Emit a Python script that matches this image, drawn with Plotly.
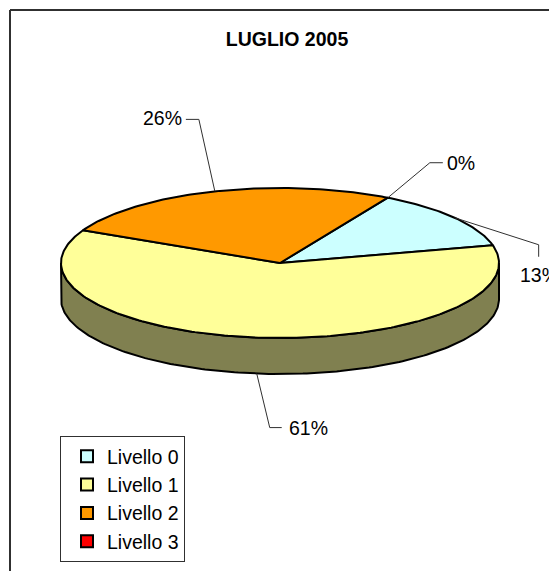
import numpy as np
import plotly.graph_objects as go

title = "LUGLIO 2005"
categories = ["Livello 0", "Livello 1", "Livello 2", "Livello 3"]
values = [13, 61, 26, 0]
colors = ["#CCFFFF", "#FFFF99", "#FF9900", "#FF0000"]
side_color = "#808050"
label_texts = ["13%", "61%", "26%", "0%"]

W, H = 549, 571
CX, CY, A, B, DEPTH = 280, 263, 219, 75, 36
START = 29.5
FONT = "Liberation Sans, Arial, sans-serif"


def ell(deg, dy=0):
    t = np.radians(deg)
    return CX + A * np.sin(t), CY - B * np.cos(t) + dy


fig = go.Figure()

# Front wall of the disc
deg = np.linspace(90, 270, 181)
x_top, y_top = ell(deg)
x_bot, y_bot = ell(deg, DEPTH)
fig.add_trace(go.Scatter(
    x=np.r_[x_top, x_bot[::-1], x_top[0]], y=np.r_[y_top, y_bot[::-1], y_top[0]],
    mode="lines", fill="toself", fillcolor=side_color,
    line=dict(color="black", width=2), showlegend=False, hoverinfo="skip"))

# Slices
total = sum(values)
edges = START + np.r_[0, np.cumsum(values)] / total * 360
for i, name in enumerate(categories):
    if values[i] == 0:
        continue
    deg = np.linspace(edges[i], edges[i + 1], max(int(values[i] * 4), 2))
    x, y = ell(deg)
    fig.add_trace(go.Scatter(
        x=np.r_[CX, x, CX], y=np.r_[CY, y, CY], mode="lines", fill="toself",
        fillcolor=colors[i], line=dict(color="black", width=2),
        showlegend=False, name=name, hoverinfo="name"))

# Legend entries
for i, name in enumerate(categories):
    fig.add_trace(go.Scatter(
        x=[None], y=[None], mode="markers", name=name, legendgroup=name,
        marker=dict(symbol="square", size=12, color=colors[i],
                    line=dict(color="black", width=2))))

# Leader lines: elbow offsets relative to the slice mid-point
leaders = [
    dict(elbow=(84, 27), end=(84, 39), lab=(63, 57), anchor="left", dy=0),
    dict(elbow=(13, 54), end=(25, 54), lab=(30, 54), anchor="left", dy=DEPTH),
    dict(elbow=(-16, -72), end=(-29, -72), lab=(-31, -73), anchor="right", dy=0),
    dict(elbow=(42, -35), end=(55, -35), lab=(57, -35), anchor="left", dy=0),
]
mids = [(edges[i] + edges[i + 1]) / 2 for i in range(4)]
for i, ld in enumerate(leaders):
    mx, my = ell(mids[i], ld["dy"])
    ex, ey = ld["elbow"]
    fx, fy = ld["end"]
    fig.add_trace(go.Scatter(
        x=[mx, mx + ex, mx + fx], y=[my, my + ey, my + fy], mode="lines",
        line=dict(color="#303030", width=1), showlegend=False, hoverinfo="skip"))
    fig.add_annotation(x=mx + ld["lab"][0], y=my + ld["lab"][1], text=label_texts[i],
                       showarrow=False, xanchor=ld["anchor"], yanchor="middle",
                       font=dict(family=FONT, size=19.5, color="black"))

fig.update_layout(
    width=W, height=H, margin=dict(l=0, r=0, t=0, b=0),
    paper_bgcolor="white", plot_bgcolor="white",
    xaxis=dict(range=[0, W], visible=False, fixedrange=True),
    yaxis=dict(range=[H, 0], visible=False, fixedrange=True),
    title=dict(text=f"<b>{title}</b>", x=287 / W, y=1 - 39 / H, xanchor="center",
               yanchor="middle", font=dict(family=FONT, size=19.5, color="black")),
    legend=dict(x=60 / W, y=1 - 436 / H, xanchor="left", yanchor="top",
                bgcolor="white", bordercolor="#303030", borderwidth=1,
                font=dict(family=FONT, size=19.5, color="black"),
                traceorder="normal", tracegroupgap=7.5, itemwidth=30,
                indentation=6, entrywidth=103, entrywidthmode="pixels"),
    shapes=[
        dict(type="line", xref="x", yref="y", x0=10, x1=10, y0=10, y1=H,
             line=dict(color="#303030", width=2)),
        dict(type="line", xref="x", yref="y", x0=10, x1=W, y0=10, y1=10,
             line=dict(color="#303030", width=2)),
    ],
)

fig.write_html("out.html", post_script="document.body.style.margin='0';document.body.style.overflow='hidden';",
               config={"displayModeBar": False})
